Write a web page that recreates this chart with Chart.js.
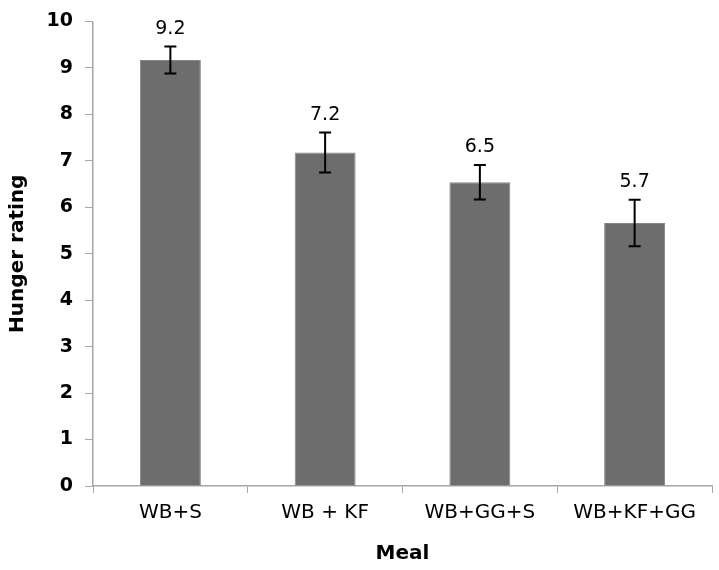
<!DOCTYPE html>
<html>
<head>
<meta charset="utf-8">
<script src="https://cdn.jsdelivr.net/npm/chart.js@4"></script>
<style>
  html, body { margin: 0; padding: 0; background: #fff; }
  #wrap { width: 719px; height: 570px; position: relative; }
</style>
</head>
<body>
<div id="wrap"><canvas id="hungerChart"></canvas></div>
<script>
const meals = ["WB+S", "WB + KF", "WB+GG+S", "WB+KF+GG"];
const hungerMeans = [9.17, 7.18, 6.54, 5.66];
const hungerErrors = [0.29, 0.43, 0.37, 0.5];
const valueLabels = ["9.2", "7.2", "6.5", "5.7"];

const axisGray = "#a6a6a6";

// draws the error bars and the value labels above them
const errorBarPlugin = {
  id: "errorBars",
  afterDatasetsDraw(chart) {
    const ctx = chart.ctx;
    const y = chart.scales.y;
    const meta = chart.getDatasetMeta(0);
    ctx.save();
    meta.data.forEach((bar, i) => {
      const top = y.getPixelForValue(hungerMeans[i] + hungerErrors[i]);
      const bottom = y.getPixelForValue(hungerMeans[i] - hungerErrors[i]);
      const cx = bar.x;
      ctx.strokeStyle = "#000";
      ctx.lineWidth = 2;
      ctx.beginPath();
      ctx.moveTo(cx, top);
      ctx.lineTo(cx, bottom);
      ctx.moveTo(cx - 6, top);
      ctx.lineTo(cx + 6, top);
      ctx.moveTo(cx - 6, bottom);
      ctx.lineTo(cx + 6, bottom);
      ctx.stroke();

      ctx.fillStyle = "#000";
      ctx.font = "19px 'DejaVu Sans'";
      ctx.textAlign = "center";
      ctx.textBaseline = "alphabetic";
      ctx.fillText(valueLabels[i], cx, top - 13);
    });
    ctx.restore();
  },
};

new Chart(document.getElementById("hungerChart"), {
  type: "bar",
  data: {
    labels: meals,
    datasets: [
      {
        data: hungerMeans,
        backgroundColor: "#6d6d6d",
        borderColor: "#858585",
        borderWidth: 1,
        barPercentage: 0.394,
        categoryPercentage: 1,
      },
    ],
  },
  options: {
    responsive: true,
    maintainAspectRatio: false,
    animation: false,
    layout: { padding: { top: 17, right: 7, left: 0, bottom: 0 } },
    plugins: {
      legend: { display: false },
      tooltip: { enabled: false },
    },
    scales: {
      x: {
        offset: true,
        grid: {
          offset: true,
          drawOnChartArea: false,
          color: axisGray,
          tickLength: 7,
        },
        border: { color: axisGray, width: 1.5 },
        ticks: {
          color: "#000",
          padding: 8,
          font: { family: "'DejaVu Sans'", size: 20 },
        },
        title: {
          display: true,
          text: "Meal",
          color: "#000",
          padding: { top: 2 },
          font: { family: "'DejaVu Sans'", size: 20, weight: "bold" },
        },
        afterFit(scale) {
          scale.height = 84;
        },
      },
      y: {
        min: 0,
        max: 10,
        ticks: {
          stepSize: 1,
          color: "#000",
          padding: 12,
          font: { family: "'DejaVu Sans'", size: 19, weight: "bold", lineHeight: 1 },
        },
        grid: {
          drawOnChartArea: false,
          color: axisGray,
          tickLength: 8,
        },
        border: { color: axisGray, width: 1.5 },
        title: {
          display: true,
          text: "Hunger rating",
          color: "#000",
          padding: { top: 6, bottom: 0 },
          font: { family: "'DejaVu Sans'", size: 20, weight: "bold" },
        },
        afterFit(scale) {
          scale.width = 93;
        },
      },
    },
  },
  plugins: [errorBarPlugin],
});
</script>
</body>
</html>
